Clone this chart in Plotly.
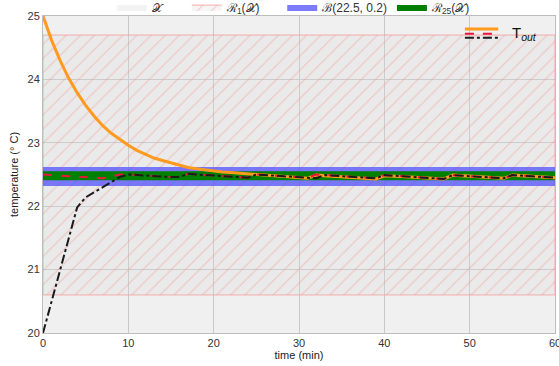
import plotly.graph_objects as go

# ---- data ----
time_min = list(range(61))
t_orange = [25.00, 24.62, 24.30, 24.02, 23.79, 23.59, 23.42, 23.27, 23.15, 23.05,
            22.96, 22.88, 22.82, 22.76, 22.72, 22.68, 22.64, 22.61, 22.59, 22.57,
            22.55, 22.54, 22.53, 22.52, 22.51, 22.49, 22.48, 22.47, 22.46, 22.45,
            22.45, 22.44, 22.49, 22.48, 22.47, 22.46, 22.45, 22.44, 22.44, 22.43,
            22.48, 22.48, 22.47, 22.46, 22.45, 22.44, 22.44, 22.43, 22.49, 22.48,
            22.47, 22.46, 22.45, 22.44, 22.44, 22.49, 22.48, 22.47, 22.46, 22.45, 22.45]
t_red = [22.50, 22.49, 22.48, 22.47, 22.46, 22.45, 22.45, 22.44, 22.47, 22.50,
         22.50, 22.49, 22.48, 22.48, 22.47, 22.46, 22.46, 22.51, 22.50, 22.49,
         22.48, 22.48, 22.47, 22.46, 22.45, 22.50, 22.49, 22.48, 22.47, 22.46,
         22.45, 22.45, 22.50, 22.49, 22.48, 22.47, 22.46, 22.45, 22.44, 22.44,
         22.49, 22.48, 22.47, 22.46, 22.45, 22.45, 22.44, 22.43, 22.49, 22.48,
         22.47, 22.46, 22.45, 22.44, 22.44, 22.49, 22.48, 22.47, 22.46, 22.45, 22.45]
t_black = [20.00, 20.50, 21.00, 21.50, 21.98, 22.14, 22.22, 22.30, 22.38, 22.46,
           22.50, 22.49, 22.48, 22.48, 22.47, 22.46, 22.46, 22.51, 22.50, 22.49,
           22.48, 22.48, 22.47, 22.46, 22.45, 22.50, 22.49, 22.48, 22.47, 22.46,
           22.45, 22.45, 22.44, 22.49, 22.48, 22.47, 22.46, 22.45, 22.44, 22.44,
           22.49, 22.48, 22.47, 22.46, 22.45, 22.45, 22.44, 22.43, 22.49, 22.48,
           22.47, 22.46, 22.45, 22.44, 22.44, 22.49, 22.48, 22.47, 22.46, 22.45, 22.45]

t_range = [0, 60]
set_X = [20.0, 25.0]
set_R1 = [20.6, 24.7]
set_B = [22.32, 22.62]
set_R25 = [22.41, 22.55]
x_ticks = [0, 10, 20, 30, 40, 50, 60]
y_ticks = [20, 21, 22, 23, 24, 25]

NB = "\u00a0"
names = ["𝒳" + NB * 6, "ℛ<sub>1</sub>(𝒳)" + NB * 5, "ℬ(22.5, 0.2)", "ℛ<sub>25</sub>(𝒳)"]

fig = go.Figure()

def box(lo_hi, name, **kw):
    x0, x1 = t_range
    y0, y1 = lo_hi
    fig.add_trace(go.Scatter(x=[x0, x1, x1, x0, x0], y=[y0, y0, y1, y1, y0],
                             mode="lines", fill="toself", name=name,
                             hoverinfo="skip", **kw))

box(set_X, names[0], fillcolor="rgba(232,232,232,0.5)", line=dict(width=0))
box(set_R1, names[1], fillcolor="rgba(215,215,215,0.25)",
    line=dict(width=1, color="rgba(245,150,150,0.75)"),
    fillpattern=dict(shape="/", fgcolor="rgba(245,140,140,0.75)",
                     bgcolor="rgba(215,215,215,0.25)", size=10, solidity=0.12))
box(set_B, names[2], fillcolor="rgba(90,90,250,0.8)", line=dict(width=0))
box(set_R25, names[3], fillcolor="#008000", line=dict(width=0))

fig.add_trace(go.Scatter(x=time_min, y=t_orange, mode="lines", showlegend=False,
                         line=dict(color="#ff9a1f", width=3)))
fig.add_trace(go.Scatter(x=time_min, y=t_red, mode="lines", showlegend=False,
                         line=dict(color="#e8163c", width=2, dash="dash")))
fig.add_trace(go.Scatter(x=time_min, y=t_black, mode="lines", showlegend=False,
                         line=dict(color="#1a1a1a", width=2, dash="dashdot")))

# inner legend (stacked line samples + label)
legend_lines = [("#ff9a1f", "solid", 3, 0.959), ("#e8163c", "dash", 2, 0.944),
                ("#1a1a1a", "dashdot", 2, 0.931)]
for col, dsh, w, yy in legend_lines:
    fig.add_shape(type="line", xref="paper", yref="paper", x0=0.824, x1=0.889,
                  y0=yy, y1=yy, line=dict(color=col, dash=dsh, width=w))
fig.add_annotation(xref="paper", yref="paper", x=0.912, y=0.944, xanchor="left",
                   yanchor="middle", showarrow=False,
                   text="T<sub><i>out</i></sub>", font=dict(size=15, color="#111"))

axis_common = dict(showgrid=True, gridcolor="#a8a8a8", gridwidth=1, zeroline=False,
                   showline=True, linecolor="#bdbdbd", linewidth=1, mirror=True,
                   ticks="", tickfont=dict(size=11, color="#333"), automargin=False,
                   ticklabeloverflow="allow",
                   title_font=dict(size=11, color="#222"))

fig.update_layout(
    width=559, height=366,
    margin=dict(l=43, r=4, t=16, b=33, autoexpand=False),
    paper_bgcolor="white", plot_bgcolor="#f8f8f8",
    font=dict(family="Liberation Sans, Arial, sans-serif", color="#333"),
    legend=dict(orientation="h", x=0.49, xanchor="center", y=1.028, yanchor="middle",
                font=dict(size=12, color="#333"), bgcolor="rgba(0,0,0,0)",
                itemwidth=30, tracegroupgap=0),
    xaxis=dict(range=t_range, tickvals=x_ticks, title=dict(text="time (min)", standoff=2),
               **axis_common),
    yaxis=dict(range=set_X, tickvals=y_ticks, title=dict(text="temperature (° C)", standoff=6),
               **axis_common),
)

fig.write_html("out.html", post_script="document.body.style.margin='0';",
               config={"displayModeBar": False})
